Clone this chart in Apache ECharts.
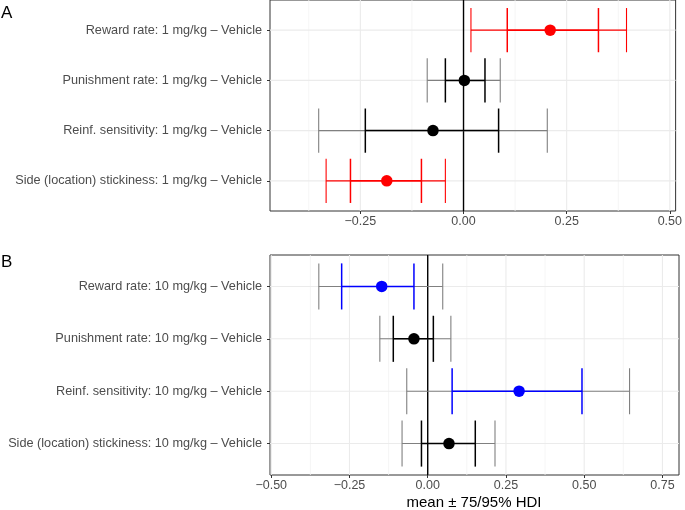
<!DOCTYPE html>
<html><head><meta charset="utf-8">
<script src="https://cdn.jsdelivr.net/npm/echarts@6/dist/echarts.min.js"></script>
<style>html,body{margin:0;padding:0;background:#fff}#c{width:685px;height:510px}</style>
</head><body><div id="c"></div>
<script>
// ---------- data ----------
const categoriesA = ['Reward rate: 1 mg/kg \u2013 Vehicle', 'Punishment rate: 1 mg/kg \u2013 Vehicle', 'Reinf. sensitivity: 1 mg/kg \u2013 Vehicle', 'Side (location) stickiness: 1 mg/kg \u2013 Vehicle'];
const meanA = [0.210, 0.002, -0.074, -0.186];
const lo75A = [0.106, -0.044, -0.238, -0.274];
const hi75A = [0.327, 0.052, 0.085, -0.102];
const lo95A = [0.018, -0.088, -0.351, -0.333];
const hi95A = [0.395, 0.089, 0.203, -0.044];

const categoriesB = ['Reward rate: 10 mg/kg \u2013 Vehicle', 'Punishment rate: 10 mg/kg \u2013 Vehicle', 'Reinf. sensitivity: 10 mg/kg \u2013 Vehicle', 'Side (location) stickiness: 10 mg/kg \u2013 Vehicle'];
const meanB = [-0.147, -0.044, 0.292, 0.068];
const lo75B = [-0.275, -0.110, 0.078, -0.020];
const hi75B = [-0.044, 0.018, 0.493, 0.152];
const lo95B = [-0.348, -0.153, -0.067, -0.082];
const hi95B = [0.048, 0.074, 0.645, 0.215];

const xTicksA = [-0.25, 0, 0.25, 0.5];
const xMinorA = [-0.375, -0.125, 0.125, 0.375];
const xRangeA = [-0.469, 0.514];
const xTicksB = [-0.5, -0.25, 0, 0.25, 0.5, 0.75];
const xMinorB = [-0.375, -0.125, 0.125, 0.375, 0.625];
const xRangeB = [-0.504, 0.803];
const refLine = [0];
const panelLabels = ['A', 'B'];
const xTitle = 'mean \u00b1 75/95% HDI';

// ---------- helpers ----------
const FONT = '"Liberation Sans", Arial, Helvetica, sans-serif';
const GREY = '#808080';
const excludesZero = (l, h) => (l > 0 || h < 0);
const fmtX = v => (v < 0 ? '\u2212' : '') + Math.abs(v).toFixed(2);

function vLines(gi, values, color, width, z) {
  return {
    type: 'custom', xAxisIndex: gi, yAxisIndex: gi, z: z, silent: true, animation: false,
    encode: { x: 0, y: 1 },
    data: values.map(v => [v, 0]),
    renderItem: function (params, api) {
      const cs = params.coordSys;
      const p = api.coord([api.value(0), 0]);
      return { type: 'line', shape: { x1: p[0], y1: cs.y, x2: p[0], y2: cs.y + cs.height },
        style: { stroke: color, lineWidth: width } };
    }
  };
}
function hLines(gi, n, color, width, z) {
  const rows = [];
  for (let i = 0; i < n; i++) rows.push([0, i]);
  return {
    type: 'custom', xAxisIndex: gi, yAxisIndex: gi, z: z, silent: true, animation: false,
    encode: { x: 0, y: 1 },
    data: rows,
    renderItem: function (params, api) {
      const cs = params.coordSys;
      const p = api.coord([0, api.value(1)]);
      return { type: 'line', shape: { x1: cs.x, y1: p[1], x2: cs.x + cs.width, y2: p[1] },
        style: { stroke: color, lineWidth: width } };
    }
  };
}

function errSeries(gi, lo, hi, sigColor, otherColor, width, z) {
  const data = lo.map((l, i) => [i, l, hi[i]]);
  return {
    type: 'custom', xAxisIndex: gi, yAxisIndex: gi, z: z, silent: true, animation: false,
    encode: { x: [1, 2], y: 0 },
    data: data,
    renderItem: function (params, api) {
      const y = api.value(0), l = api.value(1), h = api.value(2);
      const p1 = api.coord([l, y]), p2 = api.coord([h, y]);
      const capH = api.size([0, 0.88])[1];
      const col = excludesZero(l, h) ? sigColor : otherColor;
      const style = { stroke: col, lineWidth: width, fill: null };
      return { type: 'group', children: [
        { type: 'line', shape: { x1: p1[0], y1: p1[1], x2: p2[0], y2: p2[1] }, style: style },
        { type: 'line', shape: { x1: p1[0], y1: p1[1] - capH / 2, x2: p1[0], y2: p1[1] + capH / 2 }, style: style },
        { type: 'line', shape: { x1: p2[0], y1: p2[1] - capH / 2, x2: p2[0], y2: p2[1] + capH / 2 }, style: style }
      ]};
    }
  };
}

function panelSeries(gi, cats, mean, lo75, hi75, lo95, hi95, ticks, minor, sig) {
  return [
    vLines(gi, minor, '#f2f2f2', 0.8, 0),
    vLines(gi, ticks, '#ebebeb', 1.1, 0),
    hLines(gi, cats.length, '#ebebeb', 1.1, 0),
    vLines(gi, refLine, '#000000', 1.4, 1),
    errSeries(gi, lo95, hi95, sig, GREY, 1.1, 2),
    errSeries(gi, lo75, hi75, sig, '#000000', 1.5, 3),
    { type: 'scatter', xAxisIndex: gi, yAxisIndex: gi, z: 4, symbolSize: 11.5, animation: false,
      data: mean.map((m, i) => ({ value: [m, i], itemStyle: { color: excludesZero(lo75[i], hi75[i]) ? sig : '#000000', opacity: 1 } })) }
  ];
}

function xAxisDef(gi, range, ticks) {
  return {
    type: 'value', gridIndex: gi, min: range[0], max: range[1], position: 'bottom',
    axisLine: { show: false, onZero: false },
    axisTick: { show: true, length: 3, lineStyle: { color: '#333', width: 1 }, customValues: ticks },
    axisLabel: { show: true, customValues: ticks, formatter: fmtX, color: '#4d4d4d', fontSize: 12.5, fontFamily: FONT, margin: 4 },
    splitLine: { show: false }
  };
}
function yAxisDef(gi, cats) {
  return {
    type: 'value', gridIndex: gi, min: -0.6, max: cats.length - 0.4, inverse: true, position: 'left',
    axisLine: { show: false, onZero: false },
    axisTick: { show: true, length: 3, lineStyle: { color: '#333', width: 1 }, customValues: cats.map((c, i) => i) },
    axisLabel: { show: true, customValues: cats.map((c, i) => i), formatter: v => cats[Math.round(v)], color: '#4d4d4d', fontSize: 12.7, fontFamily: FONT, margin: 8 },
    splitLine: { show: false }
  };
}

const chart = echarts.init(document.getElementById('c'), null, { renderer: 'canvas' });
chart.setOption({
  animation: false,
  backgroundColor: '#fff',
  grid: [
    { left: 270, right: 6, top: 0, height: 211, show: true, borderColor: '#333', borderWidth: 1, backgroundColor: 'transparent' },
    { left: 270, right: 6, top: 255, height: 220, show: true, borderColor: '#333', borderWidth: 1, backgroundColor: 'transparent' }
  ],
  xAxis: [xAxisDef(0, xRangeA, xTicksA), xAxisDef(1, xRangeB, xTicksB)],
  yAxis: [yAxisDef(0, categoriesA), yAxisDef(1, categoriesB)],
  graphic: [
    { type: 'text', left: 1, top: 5, style: { text: panelLabels[0], font: '17px ' + FONT, fill: '#000' } },
    { type: 'text', left: 1, top: 254, style: { text: panelLabels[1], font: '17px ' + FONT, fill: '#000' } },
    { type: 'text', x: 474, y: 503, style: { text: xTitle, font: '15px ' + FONT, fill: '#000', textAlign: 'center', textVerticalAlign: 'middle' } }
  ],
  series: [].concat(
    panelSeries(0, categoriesA, meanA, lo75A, hi75A, lo95A, hi95A, xTicksA, xMinorA, '#ff0000'),
    panelSeries(1, categoriesB, meanB, lo75B, hi75B, lo95B, hi95B, xTicksB, xMinorB, '#0000ff')
  )
});
</script></body></html>
